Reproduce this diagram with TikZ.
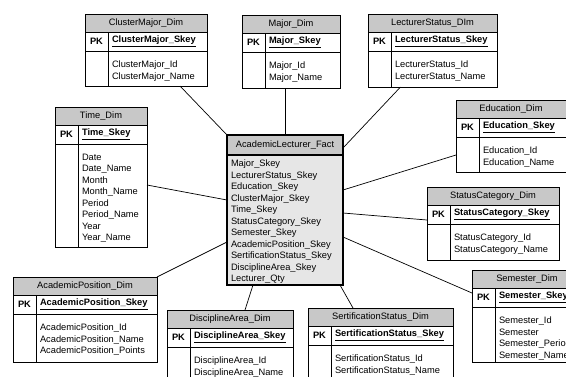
\documentclass[tikz,border=0pt]{standalone}
\usepackage{fontspec}
\setmainfont{Liberation Sans}
\usepackage{tikz}
\usetikzlibrary{calc}
\newcommand{\dimheadh}{18pt}
\newcommand{\dimpkw}{23pt}
\newcommand{\dimpkh}{19pt}
\definecolor{headgray}{RGB}{200,200,200}
\definecolor{factgray}{RGB}{230,230,230}
\tikzstyle{dimbox}=[draw, fill=white, inner sep=0, outer sep=0, line width=0.8pt]
\tikzstyle{factbox}=[dimbox, fill=factgray, line width=1.1pt]
\tikzstyle{headbox}=[draw, fill=headgray, inner sep=0, outer sep=0, line width=0.8pt,
                     minimum height=\dimheadh, font=\fontsize{9.3}{11.5}\selectfont]
\tikzstyle{pkbox}=[inner sep=0, outer sep=0, minimum width=\dimpkw, minimum height=\dimpkh,
                   font=\fontsize{9.3}{11.5}\selectfont\bfseries]
\tikzstyle{keytext}=[inner sep=0, outer sep=0, font=\fontsize{9.3}{11.5}\selectfont\bfseries]
\tikzstyle{fieldtext}=[inner sep=0, outer sep=0, align=left, font=\fontsize{9.3}{11.5}\selectfont]
\tikzstyle{rowline}=[line width=0.8pt]
\tikzstyle{link}=[line width=0.7pt]
% name, left, top, width, height, title, key, fields
\newcommand{\dimtable}[8]{%
  \node[dimbox, minimum width=#4pt, minimum height=#5pt, anchor=north west] (#1) at (#2,#3) {};
  \node[headbox, minimum width=#4pt, anchor=north west] (#1-head) at (#1.north west) {#6};
  \node[pkbox, anchor=north west] (#1-pk) at (#1-head.south west) {PK};
  \node[keytext, anchor=west] (#1-key) at ([xshift=4pt]#1-pk.east) {\underline{#7}};
  \draw[rowline] (#1-pk.north east) -- (#1-pk.north east |- #1.south);
  \draw[rowline] (#1-pk.south west) -- (#1-pk.south west -| #1.east);
  \node[fieldtext, anchor=north west] (#1-fields) at ([xshift=4pt,yshift=-10pt]#1-pk.south east) {#8};
}
\begin{document}
\begin{tikzpicture}[x=1pt, y=-1pt]
    \useasboundingbox (0,0) rectangle (566,376);
    \clip (0,0) rectangle (566,376);
    % fact table
    \node[factbox, minimum width=116pt, minimum height=150pt, anchor=north west] (fact) at (227,135) {};
    \node[headbox, line width=1.1pt, minimum width=116pt, minimum height=20pt, anchor=north west] (fact-head) at (fact.north west) {AcademicLecturer\_Fact};
    \node[fieldtext, anchor=north west] (fact-fields) at ([xshift=4pt,yshift=-5pt]fact-head.south west)
        {Major\_Skey\\LecturerStatus\_Skey\\Education\_Skey\\ClusterMajor\_Skey\\Time\_Skey\\StatusCategory\_Skey\\Semester\_Skey\\AcademicPosition\_Skey\\SertificationStatus\_Skey\\DisciplineArea\_Skey\\Lecturer\_Qty};
    % dimension tables
    \dimtable{clusterMajor}{85}{14}{122}{72}{ClusterMajor\_Dim}{ClusterMajor\_Skey}{ClusterMajor\_Id\\ClusterMajor\_Name}
    \dimtable{major}{242}{15}{98}{73}{Major\_Dim}{Major\_Skey}{Major\_Id\\Major\_Name}
    \dimtable{lecturerStatus}{368}{14}{129}{73}{LecturerStatus\_DIm}{LecturerStatus\_Skey}{LecturerStatus\_Id\\LecturerStatus\_Name}
    \dimtable{time}{55}{107}{92}{140}{Time\_Dim}{Time\_Skey}{Date\\Date\_Name\\Month\\Month\_Name\\Period\\Period\_Name\\Year\\Year\_Name}
    \dimtable{education}{456}{100}{110}{72}{Education\_Dim}{Education\_Skey}{Education\_Id\\Education\_Name}
    \dimtable{statusCategory}{427}{187}{132}{73}{StatusCategory\_Dim}{StatusCategory\_Skey}{StatusCategory\_Id\\StatusCategory\_Name}
    \dimtable{academicPosition}{13}{277}{144}{85}{AcademicPosition\_Dim}{AcademicPosition\_Skey}{AcademicPosition\_Id\\AcademicPosition\_Name\\AcademicPosition\_Points}
    \dimtable{disciplineArea}{167}{310}{126}{80}{DisciplineArea\_Dim}{DisciplineArea\_Skey}{DisciplineArea\_Id\\DisciplineArea\_Name}
    \dimtable{sertificationStatus}{308}{308}{145}{80}{SertificationStatus\_Dim}{SertificationStatus\_Skey}{SertificationStatus\_Id\\SertificationStatus\_Name}
    \dimtable{semester}{472}{270}{110}{92}{Semester\_Dim}{Semester\_Skey}{Semester\_Id\\Semester\\Semester\_Period\\Semester\_Name}
    % links
    \draw[link] ([xshift=34pt]clusterMajor.south) -- (fact.north west);
    \draw[link] ([xshift=-6pt]major.south) -- (fact.north);
    \draw[link] ([xshift=-32pt]lecturerStatus.south) -- ([yshift=-13pt]fact.north east);
    \draw[link] ([yshift=-8pt]time.east) -- ([yshift=10pt]fact.west);
    \draw[link] ([yshift=20pt]fact.east) -- ([yshift=-19pt]education.west);
    \draw[link] ([yshift=-3pt]fact.east) -- ([yshift=3.5pt]statusCategory.west);
    \draw[link] ([yshift=-27pt]fact.east) -- ([yshift=23pt]semester.west);
    \draw[link] (academicPosition.north east) -- ([yshift=-32pt]fact.west);
    \draw[link] ([xshift=15pt]disciplineArea.north) -- ([xshift=-32pt]fact.south);
    \draw[link] ([xshift=-27.5pt]sertificationStatus.north) -- ([xshift=-3pt]fact.south east);
\end{tikzpicture}
\end{document}
